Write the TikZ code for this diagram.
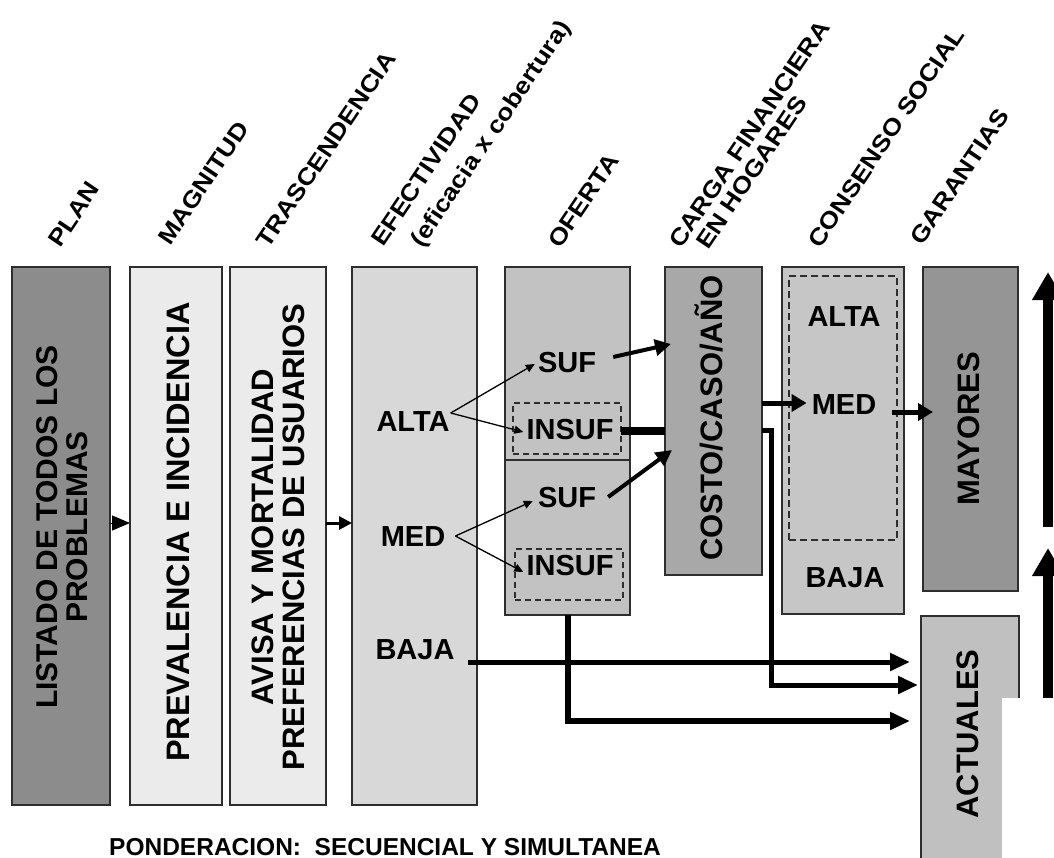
\documentclass[tikz,border=0pt]{standalone}
\usepackage{fontspec}
\setmainfont{Liberation Sans}
\usetikzlibrary{arrows.meta,calc}

\definecolor{edge}{HTML}{2E2E2E}
\definecolor{plangray}{HTML}{8C8C8C}
\definecolor{palegray}{HTML}{EBEBEB}
\definecolor{effgray}{HTML}{D8D8D8}
\definecolor{offgray}{HTML}{C2C2C2}
\definecolor{costgray}{HTML}{A8A8A8}
\definecolor{consgray}{HTML}{C6C6C6}
\definecolor{maygray}{HTML}{959595}
\definecolor{actgray}{HTML}{C0C0C0}

% slightly extended bold face for the slanted headers
\newcommand{\widehead}[1]{\scalebox{1.13}[1]{#1}}

\begin{document}
\begin{tikzpicture}[x=1pt, y=-1pt,
  column/.style={draw=edge, line width=1.5pt, anchor=north west, inner sep=0pt, outer sep=0pt},
  dashbox/.style={draw=edge, line width=1.2pt, dash pattern=on 6pt off 4pt, anchor=north west, inner sep=0pt, outer sep=0pt},
  header/.style={font=\fontsize{23.5}{26}\selectfont\bfseries, rotate=56, anchor=base west, inner sep=0pt},
  vlabel/.style={font=\fontsize{31}{31}\selectfont\bfseries, rotate=90, align=center, inner sep=0pt},
  hlabel/.style={font=\fontsize{29}{30}\selectfont\bfseries, inner sep=0pt},
  thinarrow/.style={line width=1.3pt, -{Triangle[length=9pt,width=8pt]}},
  midarrow/.style={line width=4pt, -{Triangle[length=16pt,width=16pt]}},
  heavyarrow/.style={line width=5pt, -{Triangle[length=20pt,width=17pt]}},
  bigarrow/.style={line width=10pt, -{Triangle[length=28pt,width=30pt]}},
]
\useasboundingbox (0,0) rectangle (1054,857);

% columns of the scheme
\node[column, fill=plangray, minimum width=98pt,  minimum height=538pt] (plan)   at (12,267)  {};
\node[column, fill=palegray, minimum width=92pt,  minimum height=538pt] (mag)    at (130,267) {};
\node[column, fill=palegray, minimum width=96pt,  minimum height=538pt] (trasc)  at (230,267) {};
\node[column, fill=effgray,  minimum width=125pt, minimum height=538pt] (efec)   at (352,267) {};
\node[column, fill=offgray,  minimum width=125pt, minimum height=348pt] (ofer)   at (505,267) {};
\node[column, fill=costgray, minimum width=97pt,  minimum height=308pt] (costo)  at (665,267) {};
\node[column, fill=consgray, minimum width=122pt, minimum height=347pt] (cons)   at (782,267) {};
\node[column, fill=maygray,  minimum width=95pt,  minimum height=324pt] (mayor)  at (923,267) {};
\node[column, fill=actgray,  minimum width=98pt,  minimum height=262pt] (actual) at (921,616) {};

% split of the OFERTA column
\coordinate (split) at (0,460);
\draw[draw=edge, line width=1.5pt] (ofer.west |- split) -- (ofer.east |- split);

% dashed groups
\node[dashbox, minimum width=108pt, minimum height=51pt]  (dboxA) at (513,403) {};
\node[dashbox, minimum width=108pt, minimum height=51pt]  (dboxB) at (515,549) {};
\node[dashbox, dash pattern=on 7pt off 4pt, minimum width=108pt, minimum height=264pt] (dboxC) at (789,276) {};

% column headers
\node[header] (hplan)  at (60,249)  {\widehead{PLAN}};
\node[header] (hmag)   at (170,247) {\widehead{MAGNITUD}};
\node[header] (htras)  at (268,250) {\widehead{TRASCENDENCIA}};
\node[header] (hefec)  at (383,248) {\widehead{EFECTIVIDAD}};
\node[header] (hefec2) at (422,249) {\widehead{(eficacia x cobertura)}};
\node[header] (hofer)  at (560,250) {\widehead{OFERTA}};
\node[header] (hcarga) at (681,250) {\widehead{CARGA FINANCIERA}};
\node[header] (hcarg2) at (708,251) {\widehead{EN HOGARES}};
\node[header] (hcons)  at (820,250) {\widehead{CONSENSO SOCIAL}};
\node[header] (hgar)   at (922,247) {\widehead{GARANTIAS}};

% vertical texts inside the columns
\node[vlabel, font=\fontsize{30}{30}\selectfont\bfseries] (plant) at (62,527) {LISTADO DE TODOS LOS\\PROBLEMAS};
\node[vlabel, font=\fontsize{32.5}{32.5}\selectfont\bfseries] (magt) at (178,532) {PREVALENCIA E INCIDENCIA};
\node[vlabel] (trasct) at (278,537) {AVISA Y MORTALIDAD\\PREFERENCIAS DE USUARIOS};
\node[vlabel] (costot) at (709,418) {COSTO/CASO/AÑO};
\node[vlabel] (mayt)   at (969,429) {MAYORES};
\node[vlabel] (actt)   at (968,734) {ACTUALES};

% horizontal levels
\node[hlabel] (alta)   at (413,422) {ALTA};
\node[hlabel] (med)    at (413,537) {MED};
\node[hlabel] (baja)   at (415,650) {BAJA};
\node[hlabel] (sufA)   at (567,363) {SUF};
\node[hlabel] (insufA) at (570,430) {INSUF};
\node[hlabel] (sufB)   at (567,498) {SUF};
\node[hlabel] (insufB) at (570,566) {INSUF};
\node[hlabel] (calta)  at (844,317) {ALTA};
\node[hlabel] (cmed)   at (844,405) {MED};
\node[hlabel] (cbaja)  at (845,578) {BAJA};

% caption
\node[font=\fontsize{24.5}{25}\selectfont\bfseries, anchor=base west, inner sep=0pt] (pond) at (109,855)
  {PONDERACION:\ \ SECUENCIAL Y SIMULTANEA};

% sequence arrows between the first columns
\coordinate (rowP) at (0,523);
\draw[line width=1pt, -{Triangle[length=18pt,width=15pt]}] (plan.east |- rowP) -- (mag.west |- rowP);
\draw[line width=3pt, -{Triangle[length=13pt,width=13pt]}] (trasc.east |- rowP) -- (efec.west |- rowP);

% effectiveness levels to supply
\draw[thinarrow] ($(alta.east)+(1,-9)$) -- ($(sufA.west)+(-3,1)$);
\draw[thinarrow] ($(alta.east)+(1,-9)$) -- ($(insufA.west)+(-3,2)$);
\draw[thinarrow] ($(med.east)+(10,-1)$) -- ($(sufB.west)+(-5,3)$);
\draw[thinarrow] ($(med.east)+(10,-1)$) -- ($(insufB.west)+(-3,6)$);

% sufficient supply to cost per case
\draw[midarrow] ($(sufA.east)+(17,-6)$) -- ($(costo.west)+(6,-77)$);
\draw[midarrow] ($(sufB.east)+(12,-1)$) -- ($(costo.west)+(7,29)$);

% insufficient supply: bar into the cost column and route to ACTUALES
\draw[line width=8pt] ($(dboxA.east)+(0,2)$) -- ($(dboxA.east -| costo.west)+(0,2)$);
\coordinate (chan) at (771,0);
\coordinate (rowA) at (0,662);
\coordinate (rowB) at (0,685);
\coordinate (rowC) at (0,721);
\draw[heavyarrow, shorten >=3pt] ($(dboxA.east -| costo.east)+(0,2)$) -| (chan |- rowB) -- (actual.west |- rowB);
\draw[heavyarrow, shorten >=11pt] ($(baja.east)+(13,12)$) -- (actual.west |- rowA);
\draw[heavyarrow, line width=6pt, shorten >=11pt] (ofer.south) |- (actual.west |- rowC);

% cost to social consensus to guarantees
\draw[line width=5pt, -{Triangle[length=15pt,width=17pt]}] ($(costo.east |- cmed.west)+(0,-2)$) -- ($(cmed.west)+(-5,-2)$);
\draw[line width=5pt, -{Triangle[length=15pt,width=17pt]}] ($(cmed.east)+(16,7)$) -- ($(mayor.west |- cmed.east)+(10,7)$);

% priority arrows on the right edge
\coordinate (upA0) at (1048,527);
\coordinate (upA1) at (1048,272);
\coordinate (upB0) at (1048,870);
\coordinate (upB1) at (1048,548);
\draw[bigarrow] (upA0) -- (upA1);
\draw[bigarrow] (upB0) -- (upB1);

% white panel over the lower right corner
\fill[white] (1002,698) rectangle (1070,880);
\end{tikzpicture}
\end{document}
